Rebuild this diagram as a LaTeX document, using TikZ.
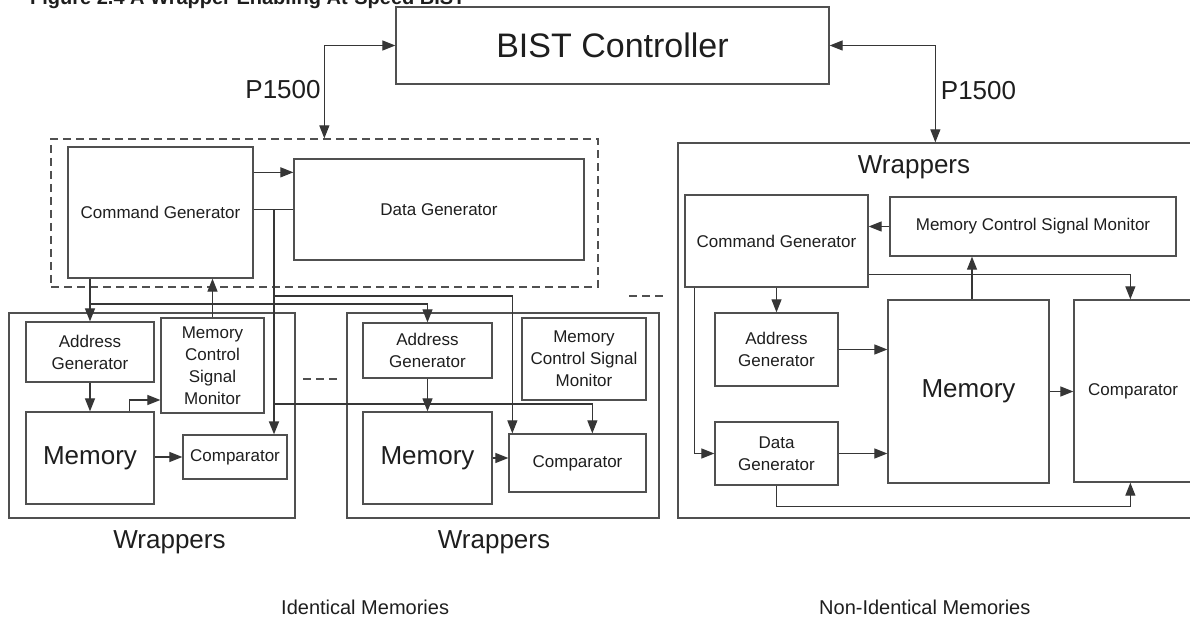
\documentclass[tikz,border=0pt]{standalone}
\usepackage{fontspec}
\setmainfont{Liberation Sans}
\usetikzlibrary{arrows.meta,calc}
\newcommand{\fsz}[2]{\fontsize{#1}{#2}\selectfont}
\definecolor{boxc}{HTML}{505050}
\definecolor{linec}{HTML}{363636}
\definecolor{txtc}{HTML}{1E1E1E}
\tikzset{
 blk/.style={draw=boxc, line width=1.3pt, inner sep=0pt, align=center, text=txtc, font=\fsz{17}{22}},
 conn/.style={draw=linec, line width=1.2pt, -{Triangle[length=13pt,width=10pt]}},
 bconn/.style={draw=linec, line width=1.2pt, {Triangle[length=13pt,width=10pt]}-{Triangle[length=13pt,width=10pt]}},
 plainln/.style={draw=linec, line width=1.2pt},
 lbl/.style={inner sep=0pt, text=txtc},
 dsh/.style={draw=boxc, line width=1.3pt, dash pattern=on 8pt off 5pt},
}
\begin{document}
\begin{tikzpicture}[x=1pt,y=-1pt]
\useasboundingbox (0,0) rectangle (1190,620);
% title (clipped at top, as in the reference)
\node[lbl, anchor=base west, font=\bfseries\fsz{20}{24}] (title) at (30,5) {Figure 2.4 A Wrapper Enabling At-Speed BIST};
% BIST controller
\node[blk, minimum width=433pt, minimum height=77pt, font=\fsz{34}{40}] (bist) at (612.5,45.5) {BIST Controller};
% left dashed group
\node[dsh, minimum width=547pt, minimum height=148pt] (dash1) at (324.5,213) {};
\node[blk, minimum width=185pt, minimum height=131pt] (cg1) at (160.5,212.5) {Command Generator};
\node[blk, minimum width=290pt, minimum height=101pt] (dg1) at (439,209.5) {Data Generator};
% wrapper 1
\node[blk, minimum width=286pt, minimum height=205pt] (wr1) at (152,415.5) {};
\node[blk, minimum width=128pt, minimum height=60pt] (ag1) at (90,352) {Address\\Generator};
\node[blk, minimum width=103pt, minimum height=95pt] (mc1) at (212.5,365.5) {Memory\\Control\\Signal\\Monitor};
\node[blk, minimum width=128pt, minimum height=92pt, font=\fsz{26}{30}] (mem1) at (90,458) {Memory};
\node[blk, minimum width=104pt, minimum height=44pt] (cmp1) at (235,457) {Comparator};
% wrapper 2
\node[blk, minimum width=312pt, minimum height=205pt] (wr2) at (503,415.5) {};
\node[blk, minimum width=129pt, minimum height=55pt] (ag2) at (427.5,350.5) {Address\\Generator};
\node[blk, minimum width=124pt, minimum height=82pt] (mc2) at (584,359) {Memory\\Control Signal\\Monitor};
\node[blk, minimum width=129pt, minimum height=92pt, font=\fsz{26}{30}] (mem2) at (427.5,458) {Memory};
\node[blk, minimum width=137pt, minimum height=58pt] (cmp2) at (577.5,463) {Comparator};
% right wrapper
\node[blk, minimum width=522pt, minimum height=375pt] (wr3) at (939,330.5) {};
\node[lbl, font=\fsz{26}{30}] (wr3lbl) at (914,167) {Wrappers};
\node[blk, minimum width=183pt, minimum height=92pt] (cg3) at (776.5,241) {Command Generator};
\node[blk, minimum width=286pt, minimum height=59pt] (mc3) at (1033,226.5) {Memory Control Signal Monitor};
\node[blk, minimum width=123pt, minimum height=73pt] (ag3) at (776.5,349.5) {Address\\Generator};
\node[blk, minimum width=123pt, minimum height=63pt] (dg3) at (776.5,453.5) {Data\\Generator};
\node[blk, minimum width=161pt, minimum height=183pt, font=\fsz{26}{30}] (mem3) at (968.5,391.5) {Memory};
\node[blk, minimum width=136pt, minimum height=182pt] (cmp3) at (1142,391) {};
\node[lbl, anchor=west, font=\fsz{17}{22}] (cmp3lbl) at (1088,391) {Comparator};
% labels
\node[lbl, font=\fsz{26}{30}] (p1) at (283,90) {P1500};
\node[lbl, font=\fsz{26}{30}] (p2) at (978.5,91) {P1500};
\node[lbl, font=\fsz{26}{30}] (w1) at (169.5,542) {Wrappers};
\node[lbl, font=\fsz{26}{30}] (w2) at (494,542) {Wrappers};
\node[lbl, anchor=west, font=\fsz{20}{24}] (idm) at (281,607) {Identical Memories};
\node[lbl, anchor=west, font=\fsz{20}{24}] (nidm) at (819,607) {Non-Identical Memories};
% P1500 connections
\draw[bconn] (bist.west) -| ([xshift=274pt]dash1.north west);
\draw[bconn] (bist.east) -| ([xshift=258pt]wr3.north west);
% left group wiring
\draw[conn] ([yshift=-26pt]cg1.north east) -- ([yshift=-14pt]dg1.north west);
\draw[plainln] ([yshift=-63pt]cg1.north east) -- ([yshift=-51pt]dg1.north west);
\coordinate (j1) at (274,210);
\draw[conn, line width=1.8pt] (j1) -- (j1 |- cmp1.north);
\draw[conn] (j1 |- 0,296) -| ([xshift=4pt]cmp2.north west);
\draw[conn] (j1 |- 0,404) -| ([xshift=84pt]cmp2.north west);
\draw[conn] (ag1.north |- cg1.south) -- (ag1.north);
\draw[conn] (ag1.north |- 0,304) -| (ag2.north);
\draw[conn] (mc1.north) -- (mc1.north |- cg1.south);
\draw[conn] (ag1.south) -- (mem1.north);
\draw[conn] ([xshift=104pt]mem1.north west) |- (mc1.west |- 0,400);
\draw[conn] (mem1.east |- cmp1.west) -- (cmp1.west);
\draw[conn] (ag2.south) -- (mem2.north);
\draw[conn] (mem2.east) -- (mem2.east -| cmp2.west);
\draw[dsh] (303,379) -- (338,379);
\draw[dsh] (629,296) -- (664,296);
% right group wiring
\draw[conn] (mc3.west) -- (mc3.west -| cg3.east);
\draw[conn] ([yshift=13pt]cg3.south east) -| ([xshift=57pt]cmp3.north west);
\draw[conn] ([xshift=3.5pt]mem3.north) -- ([xshift=3.5pt]mem3.north |- mc3.south);
\draw[conn] (ag3.north |- cg3.south) -- (ag3.north);
\draw[conn] ([xshift=10pt]cg3.south west) |- (dg3.west);
\draw[conn] (ag3.east) -- (ag3.east -| mem3.west);
\draw[conn] (dg3.east) -- (dg3.east -| mem3.west);
\draw[conn] (mem3.east) -- (mem3.east -| cmp3.west);
\draw[conn] (dg3.south) -- ++(0,21) -| ([xshift=57pt]cmp3.south west);
\end{tikzpicture}
\end{document}
